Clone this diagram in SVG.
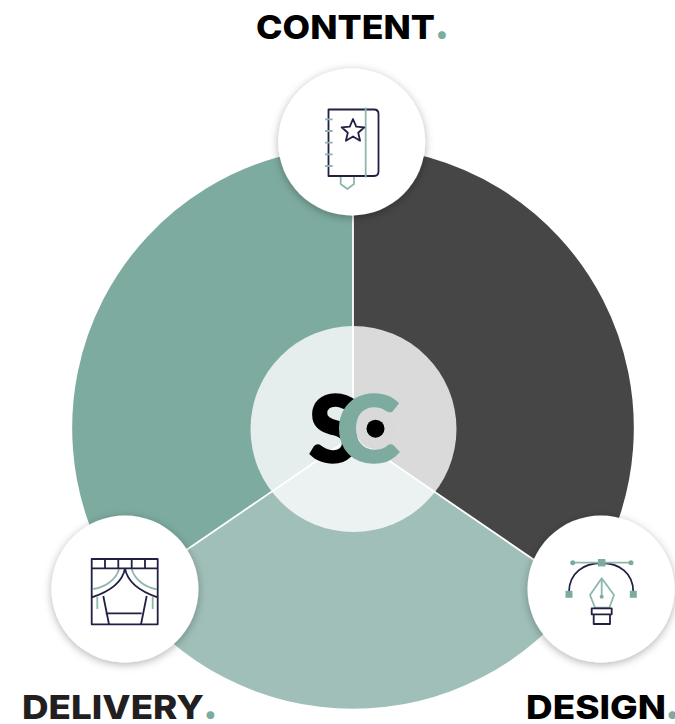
<svg xmlns="http://www.w3.org/2000/svg" width="675" height="724" viewBox="0 0 675 724">
<style>
.t{font-family:"Inter","Liberation Sans",sans-serif;font-weight:800;font-size:33px}
.dot{font-family:"Inter","Liberation Sans",sans-serif;font-weight:800;font-size:42px;fill:#7dab9f}
.node{fill:#fff;filter:url(#sh)}
.n{fill:none;stroke:#211f42;stroke-width:1.8;stroke-linejoin:round}
.g{fill:none;stroke:#8db7ad;stroke-width:1.8;stroke-linejoin:round}
.f{fill:#7dab9f}
.logo{font-family:"Lato","Liberation Sans",sans-serif;font-size:92px;font-weight:900}
</style>
<defs><filter id="sh" x="-30%" y="-30%" width="160%" height="160%"><feDropShadow dx="0" dy="2" stdDeviation="4" flood-color="#000" flood-opacity=".3"/></filter></defs>
<rect width="675" height="724" fill="#fff"/>
<g id="sectors">
<path d="M353 436V147A281 281 0 0 0 125 592Z" fill="#7dab9f"/>
<path d="M353 436V147A281 281 0 0 1 581 592Z" fill="#464646"/>
<path d="M353 436L125 592A281 281 0 0 0 581 592Z" fill="#a0bfb9"/>
</g>
<g id="connectors" fill="none" stroke="#fff" stroke-width="1.800">
<path d="M353 436V147"/><path d="M353 436L125 592"/><path d="M353 436L581 592"/>
</g>
<g id="center">
<circle cx="353.500" cy="429" r="103" fill="#fff" fill-opacity=".8"/>
<text class="logo" x="309" y="462" textLength="50" lengthAdjust="spacingAndGlyphs" fill="#000" stroke="#000" stroke-width="2.500">S</text>
<circle cx="376" cy="429" r="20" fill="#d9d9d9"/>
<text class="logo" x="337" y="462" textLength="62" lengthAdjust="spacingAndGlyphs" fill="#7dab9f" stroke="#7dab9f" stroke-width="2.500">C</text>
<circle cx="375.500" cy="428.700" r="9" fill="#000"/>
</g>
<g id="content">
<circle class="node" cx="351.700" cy="142" r="73.500"/>
<path class="n" d="M331 109.500H374Q378.500 109.500 378.500 114V171.500Q378.500 176 374 176H328.500V109.500Z"/>
<path class="g" d="M365.700 107.500V177.500M325 119.300H332.700M325 131H332.700M325 142.700H332.700M325 154.300H332.700M325 166H332.700M340.700 177V184L347.300 189L354 184V177"/>
<path class="n" d="M353 119L356.200 126.600L364.400 127.300L358.200 132.700L360.100 140.700L353 136.500L345.900 140.700L347.800 132.700L341.600 127.300L349.800 126.600Z"/>
<text class="t" x="256" y="39" textLength="179" lengthAdjust="spacingAndGlyphs" fill="#000">CONTENT</text>
<text class="dot" x="434.500" y="38.500">.</text>
</g>
<g id="delivery">
<circle class="node" cx="125" cy="589" r="73.500"/>
<path class="g" d="M93.300 589C105 587 116 580 119 569.300M131.700 569.300C135 580 145 587 156.700 589.300M97.300 597V609M152.700 597V609"/>
<path class="n" d="M91.700 559H157.700V624.300H91.700ZM91.700 568.300H157.700M105 559V568.300M118.300 559V568.300M131.700 559V568.300M145 559V568.300M125 568.300C122 585 105 593 91.700 597.300M125 568.300C128 585 145 593 157.700 597.300M103.300 596L109 624.300M146.700 596L141 624.300M105.700 613.300H141.700"/>
<text class="t" x="22" y="719" textLength="182" lengthAdjust="spacingAndGlyphs" fill="#231f20">DELIVERY</text>
<text class="dot" x="203" y="719">.</text>
</g>
<g id="design">
<circle class="node" cx="601" cy="589" r="73.500"/>
<path class="n" d="M569 592C569 573 584 563 601.500 563C619 563 633.300 573 633.300 592"/>
<path class="g" d="M572.700 562.700H631M601.700 578.300L590 595L595 607.700H609.300L614 595ZM601.700 578.300V596.700"/>
<g class="f"><circle cx="572.700" cy="562.700" r="2.500"/><circle cx="631" cy="562.700" r="2.500"/><circle cx="601.700" cy="596.700" r="2"/><rect x="598" y="559" width="7.400" height="7.400"/><rect x="565.500" y="590.800" width="7" height="7"/><rect x="629.800" y="590.800" width="7" height="7"/></g>
<path class="n" d="M591.700 608.300H611.700V614.300H591.700ZM593.700 614.300V624H610V614.300"/>
<text class="t" x="526" y="719" textLength="140" lengthAdjust="spacingAndGlyphs" fill="#000">DESIGN</text>
<text class="dot" x="665" y="719">.</text>
</g>
</svg>
